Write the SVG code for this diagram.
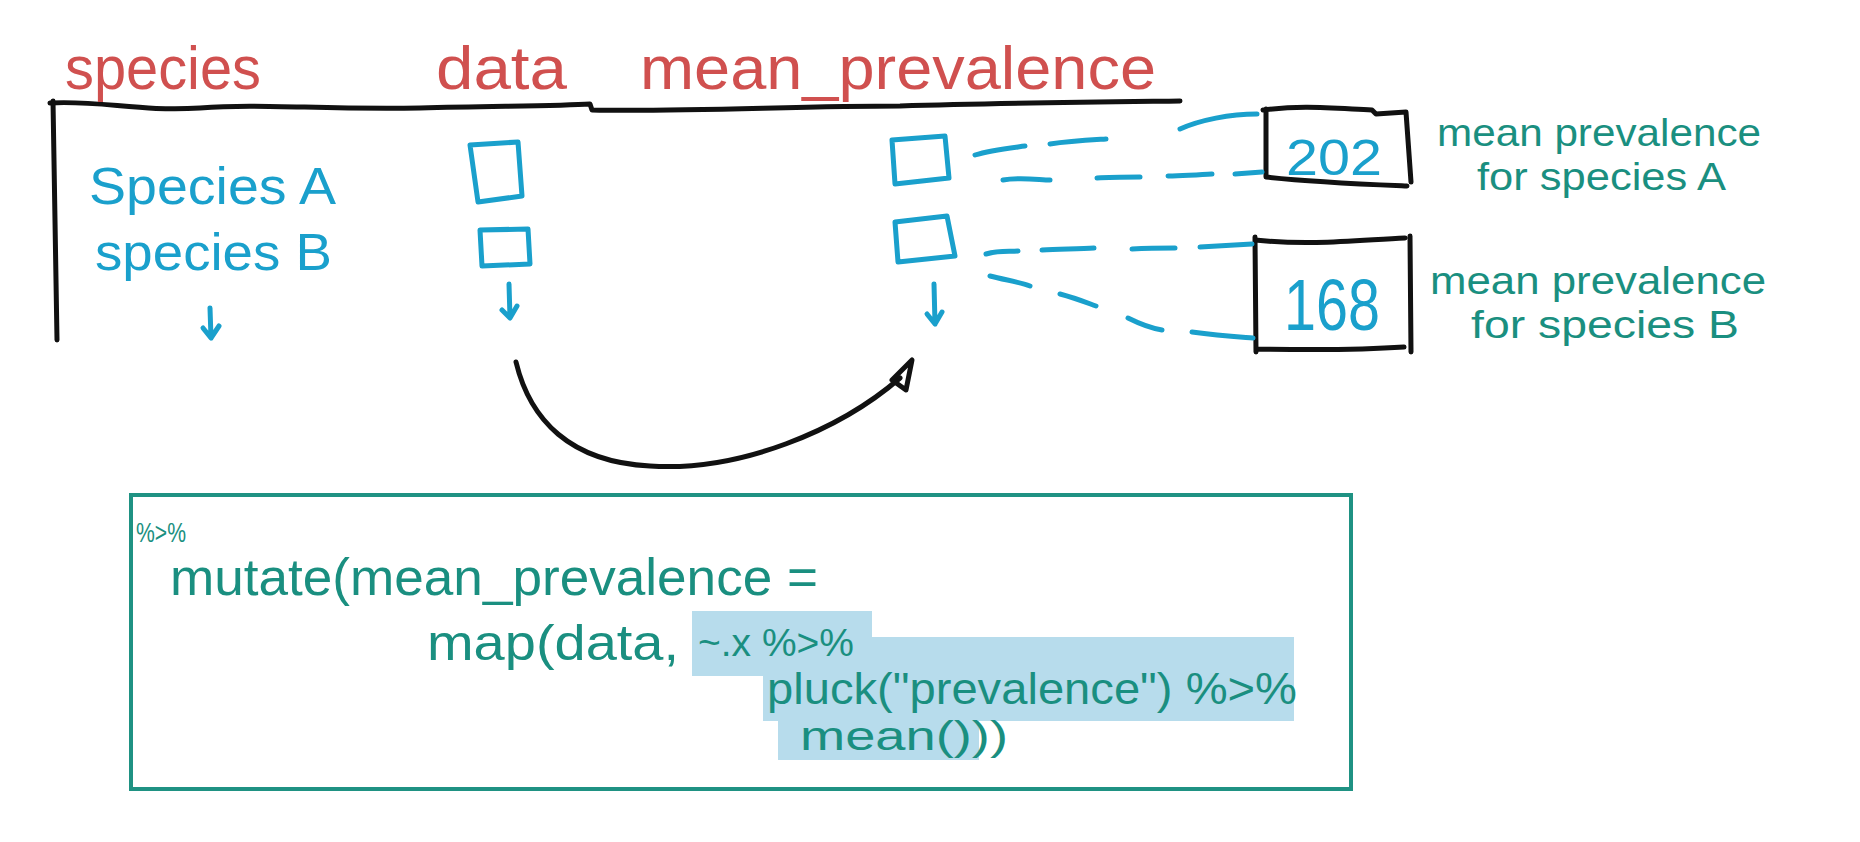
<svg xmlns="http://www.w3.org/2000/svg" width="1860" height="842" viewBox="0 0 1860 842">
<style>
.hdr{font-family:"Liberation Sans",sans-serif;fill:#d0504f;font-size:62px}
.blu{font-family:"Liberation Sans",sans-serif;fill:#1aa0cc}
.tel{font-family:"Liberation Sans",sans-serif;fill:#1a8f80}
.ink{fill:none;stroke:#111;stroke-width:5;stroke-linecap:round;stroke-linejoin:round}
.bl{fill:none;stroke:#1aa0cc;stroke-width:5;stroke-linecap:round;stroke-linejoin:round}
.hl{fill:#b7dcec}
</style>
<rect width="1860" height="842" fill="#fff"/>
<g id="table">
<path class="ink" stroke-width="6" d="M50,103 C100,100 140,112 200,108 C260,103 320,110 420,108 C500,106 560,106 590,104 L592,110 C680,112 800,106 900,106 C1000,103 1100,102 1180,101"/>
<path class="ink" d="M53,101 L57,340" stroke-width="4"/>
</g>
<g id="headers">
<text class="hdr" x="65" y="89" textLength="196" lengthAdjust="spacingAndGlyphs">species</text>
<text class="hdr" x="436" y="89" textLength="131" lengthAdjust="spacingAndGlyphs">data</text>
<text class="hdr" x="640" y="89" textLength="516" lengthAdjust="spacingAndGlyphs">mean_prevalence</text>
</g>
<g id="species-col">
<text class="blu" x="89" y="204" font-size="52" textLength="247" lengthAdjust="spacingAndGlyphs">Species A</text>
<text class="blu" x="95" y="270" font-size="52" textLength="237" lengthAdjust="spacingAndGlyphs">species B</text>
<path class="bl" d="M210,308 L211,338 M203,328 L211,338 L219,326"/>
</g>
<g id="data-col">
<path class="bl" d="M470,145 L518,142 L522,196 L478,202 Z"/>
<path class="bl" d="M480,230 L528,229 L530,264 L482,266 Z"/>
<path class="bl" d="M509,284 L510,318 M502,310 L510,318 L517,306"/>
</g>
<g id="mean-col">
<path class="bl" d="M892,140 L945,136 L949,178 L895,184 Z"/>
<path class="bl" d="M895,222 L947,216 L955,256 L898,262 Z"/>
<path class="bl" d="M934,284 L935,324 M927,314 L935,324 L942,312"/>
</g>
<g id="result-a">
<path class="ink" d="M1263,110 C1300,105 1330,108 1372,110 L1376,114 L1406,112 L1411,182 M1266,109 L1266,177 C1310,182 1360,184 1407,186"/>
<text class="blu" x="1286" y="175" font-size="50" textLength="96" lengthAdjust="spacingAndGlyphs">202</text>
</g>
<g id="result-b">
<path class="ink" d="M1255,237 L1256,352 M1255,240 C1310,246 1360,240 1405,238 M1410,236 L1411,352 M1256,349 C1310,350 1360,350 1404,347"/>
<text class="blu" x="1284" y="330" font-size="72" textLength="96" lengthAdjust="spacingAndGlyphs">168</text>
</g>
<g id="label-a">
<text class="tel" x="1437" y="146" font-size="39" textLength="324" lengthAdjust="spacingAndGlyphs">mean prevalence</text>
<text class="tel" x="1477" y="190" font-size="39" textLength="249" lengthAdjust="spacingAndGlyphs">for species A</text>
</g>
<g id="label-b">
<text class="tel" x="1430" y="294" font-size="38" textLength="336" lengthAdjust="spacingAndGlyphs">mean prevalence</text>
<text class="tel" x="1471" y="338" font-size="38" textLength="268" lengthAdjust="spacingAndGlyphs">for species B</text>
</g>
<g id="connectors">
<path class="bl" stroke-width="6" d="M975,155 C990,150 1010,148 1025,146 M1050,144 C1070,141 1090,140 1106,139 M1180,129 C1200,120 1230,114 1257,114"/>
<path class="bl" stroke-width="6" d="M1003,180 C1020,177 1040,180 1050,180 M1097,178 C1110,177 1125,177 1140,177 M1168,176 C1190,175 1200,175 1212,174 M1235,174 L1262,172"/>
<path class="bl" stroke-width="6" d="M986,254 C1000,250 1010,252 1018,251 M1042,250 C1060,249 1080,249 1094,248 M1132,249 C1150,248 1160,248 1175,248 M1200,247 L1252,244"/>
<path class="bl" stroke-width="6" d="M990,276 C1005,280 1020,282 1030,286 M1060,294 C1075,298 1085,302 1096,306 M1128,318 C1140,324 1150,328 1162,330 M1192,332 C1220,336 1240,337 1253,338"/>
<path class="ink" d="M516,362 C530,420 570,462 650,466 C740,472 840,430 900,378"/>
<path class="ink" d="M892,380 L912,360 L906,390 Z" fill="#111"/>
</g>
<g id="code">
<rect x="131" y="495" width="1220" height="294" fill="none" stroke="#1f9283" stroke-width="4"/>
<rect class="hl" x="692" y="611" width="180" height="65"/>
<rect class="hl" x="763" y="637" width="531" height="84"/>
<rect class="hl" x="778" y="721" width="201" height="39"/>
<text class="tel" x="136" y="542" font-size="28" textLength="50" lengthAdjust="spacingAndGlyphs">%&gt;%</text>
<text class="tel" x="170" y="595" font-size="52" textLength="648" lengthAdjust="spacingAndGlyphs">mutate(mean_prevalence =</text>
<text class="tel" x="427" y="660" font-size="50" textLength="252" lengthAdjust="spacingAndGlyphs">map(data,</text>
<text class="tel" x="698" y="656" font-size="38" textLength="156" lengthAdjust="spacingAndGlyphs">~.x %&gt;%</text>
<text class="tel" x="767" y="704" font-size="44" textLength="530" lengthAdjust="spacingAndGlyphs">pluck("prevalence") %&gt;%</text>
<text class="tel" x="800" y="750" font-size="40" textLength="208" lengthAdjust="spacingAndGlyphs">mean()))</text>
</g>
</svg>
